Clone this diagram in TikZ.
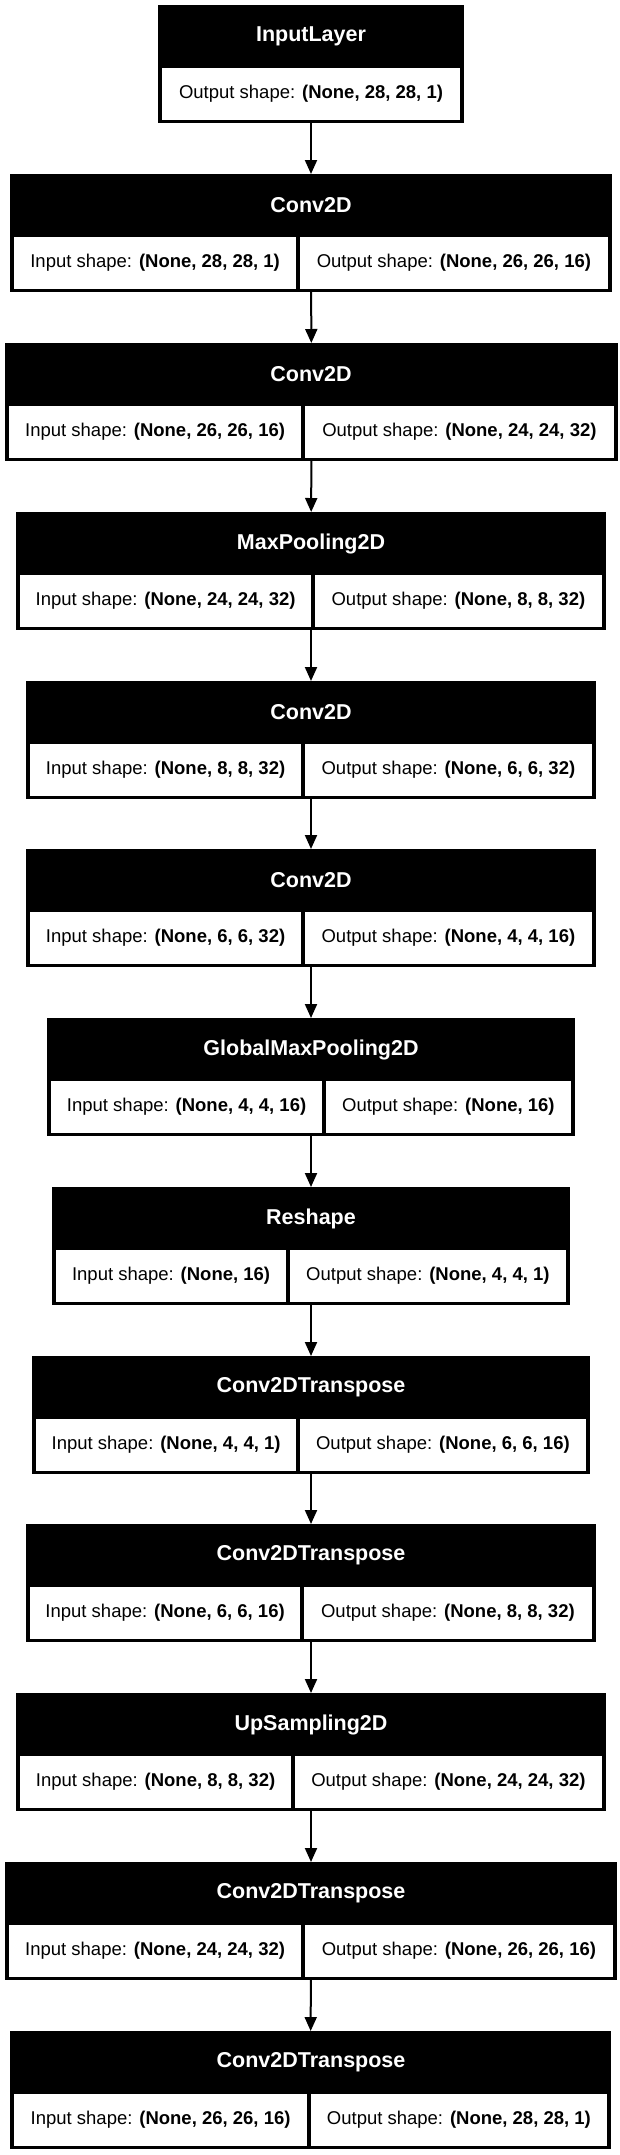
\documentclass[tikz,border=0pt]{standalone}
\usepackage{fontspec}
\setmainfont{Liberation Sans}
\usepackage{tikz}
\usetikzlibrary{arrows.meta}
\tikzset{> = {Triangle[length=14pt,width=12pt]}, every picture/.style={line width=2pt}}

\begin{document}
\begin{tikzpicture}[x=1pt,y=-1pt]
\useasboundingbox (0,0) rectangle (619,2155);

\begin{scope}[every node/.style={rectangle,fill=black,inner sep=0pt,outer sep=0pt,minimum height=118pt}]
\node[minimum width=306pt] (input) at (311,64) {};
\node[minimum width=602pt] (conv1) at (311,233) {};
\node[minimum width=613pt] (conv2) at (311.5,402) {};
\node[minimum width=590pt] (pool) at (311,571) {};
\node[minimum width=570pt] (conv3) at (311,740) {};
\node[minimum width=570pt] (conv4) at (311,908) {};
\node[minimum width=528pt] (gpool) at (311,1077) {};
\node[minimum width=518pt] (reshape) at (311,1246) {};
\node[minimum width=558pt] (tconv1) at (311,1415) {};
\node[minimum width=570pt] (tconv2) at (311,1583) {};
\node[minimum width=590pt] (up) at (311,1752) {};
\node[minimum width=612pt] (tconv3) at (311,1921) {};
\node[minimum width=601pt] (tconv4) at (310.5,2090) {};
\end{scope}

\begin{scope}[every node/.style={text=white,font=\bfseries\fontsize{21.5}{25}\selectfont}]
\node (inputT) at (311,36.5) {InputLayer};
\node (conv1T) at (311,205.5) {Conv2D};
\node (conv2T) at (311,374.5) {Conv2D};
\node (poolT) at (311,543.5) {MaxPooling2D};
\node (conv3T) at (311,712.5) {Conv2D};
\node (conv4T) at (311,880.5) {Conv2D};
\node (gpoolT) at (311,1049.5) {GlobalMaxPooling2D};
\node (reshapeT) at (311,1218.5) {Reshape};
\node (tconv1T) at (311,1387.5) {Conv2DTranspose};
\node (tconv2T) at (311,1555.5) {Conv2DTranspose};
\node (upT) at (311,1724.5) {UpSampling2D};
\node (tconv3T) at (311,1893.5) {Conv2DTranspose};
\node (tconv4T) at (311,2062.5) {Conv2DTranspose};
\end{scope}

\begin{scope}[every node/.style={fill=white,inner sep=0pt,minimum height=51.5pt,font=\fontsize{18.5}{22}\selectfont}]
\node[minimum width=298pt] (inputO) at (311,93.75) {Output shape: \textbf{(None, 28, 28, 1)}};
\node[minimum width=282.25pt] (conv1I) at (155.1,262.75) {Input shape: \textbf{(None, 28, 28, 1)}};
\node[minimum width=308.25pt] (conv1O) at (453.9,262.75) {Output shape: \textbf{(None, 26, 26, 16)}};
\node[minimum width=292.25pt] (conv2I) at (155.1,431.75) {Input shape: \textbf{(None, 26, 26, 16)}};
\node[minimum width=309.25pt] (conv2O) at (459.4,431.75) {Output shape: \textbf{(None, 24, 24, 32)}};
\node[minimum width=291.25pt] (poolI) at (165.6,600.75) {Input shape: \textbf{(None, 24, 24, 32)}};
\node[minimum width=287.25pt] (poolO) at (458.4,600.75) {Output shape: \textbf{(None, 8, 8, 32)}};
\node[minimum width=271.25pt] (conv3I) at (165.6,769.75) {Input shape: \textbf{(None, 8, 8, 32)}};
\node[minimum width=287.25pt] (conv3O) at (448.4,769.75) {Output shape: \textbf{(None, 6, 6, 32)}};
\node[minimum width=271.25pt] (conv4I) at (165.6,937.75) {Input shape: \textbf{(None, 6, 6, 32)}};
\node[minimum width=287.25pt] (conv4O) at (448.4,937.75) {Output shape: \textbf{(None, 4, 4, 16)}};
\node[minimum width=271.25pt] (gpoolI) at (186.6,1106.75) {Input shape: \textbf{(None, 4, 4, 16)}};
\node[minimum width=245.25pt] (gpoolO) at (448.4,1106.75) {Output shape: \textbf{(None, 16)}};
\node[minimum width=230.25pt] (reshapeI) at (171.1,1275.75) {Input shape: \textbf{(None, 16)}};
\node[minimum width=276.25pt] (reshapeO) at (427.9,1275.75) {Output shape: \textbf{(None, 4, 4, 1)}};
\node[minimum width=260.25pt] (tconv1I) at (166.1,1444.75) {Input shape: \textbf{(None, 4, 4, 1)}};
\node[minimum width=286.25pt] (tconv1O) at (442.9,1444.75) {Output shape: \textbf{(None, 6, 6, 16)}};
\node[minimum width=270.25pt] (tconv2I) at (165.1,1612.75) {Input shape: \textbf{(None, 6, 6, 16)}};
\node[minimum width=288.25pt] (tconv2O) at (447.9,1612.75) {Output shape: \textbf{(None, 8, 8, 32)}};
\node[minimum width=271.25pt] (upI) at (155.6,1781.75) {Input shape: \textbf{(None, 8, 8, 32)}};
\node[minimum width=307.25pt] (upO) at (448.4,1781.75) {Output shape: \textbf{(None, 24, 24, 32)}};
\node[minimum width=292.25pt] (tconv3I) at (155.1,1950.75) {Input shape: \textbf{(None, 24, 24, 32)}};
\node[minimum width=308.25pt] (tconv3O) at (458.9,1950.75) {Output shape: \textbf{(None, 26, 26, 16)}};
\node[minimum width=293.25pt] (tconv4I) at (160.6,2119.75) {Input shape: \textbf{(None, 26, 26, 16)}};
\node[minimum width=296.25pt] (tconv4O) at (458.9,2119.75) {Output shape: \textbf{(None, 28, 28, 1)}};
\end{scope}

\begin{scope}[every edge/.style={draw}]
    \path [->] (input) edge (conv1);
    \path [->] (conv1) edge (conv2);
    \path [->] (conv2) edge (pool);
    \path [->] (pool) edge (conv3);
    \path [->] (conv3) edge (conv4);
    \path [->] (conv4) edge (gpool);
    \path [->] (gpool) edge (reshape);
    \path [->] (reshape) edge (tconv1);
    \path [->] (tconv1) edge (tconv2);
    \path [->] (tconv2) edge (up);
    \path [->] (up) edge (tconv3);
    \path [->] (tconv3) edge (tconv4);
\end{scope}
\end{tikzpicture}
\end{document}
